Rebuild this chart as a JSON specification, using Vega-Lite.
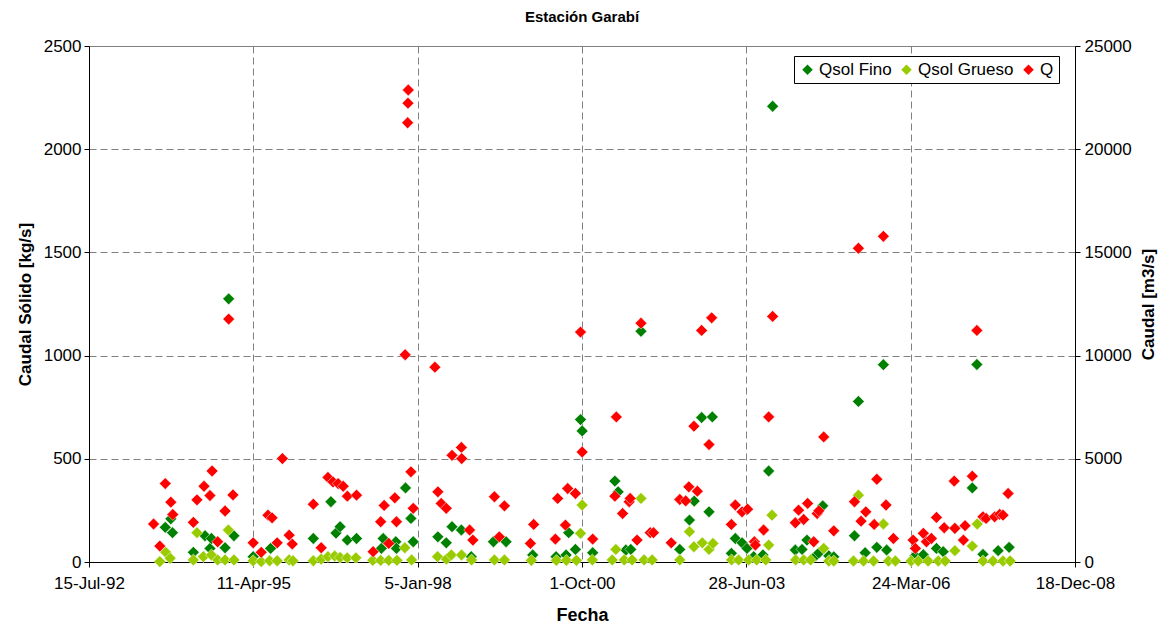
{
  "$schema": "https://vega.github.io/schema/vega-lite/v6.json",
  "autosize": "none",
  "width": 986,
  "height": 516,
  "padding": {"left": 89, "top": 46, "right": 95, "bottom": 63},
  "background": "white",
  "config": {
    "font": "Liberation Sans",
    "view": {"stroke": "#808080", "strokeWidth": 1},
    "axis": {
      "labelFont": "Liberation Sans",
      "titleFont": "Liberation Sans",
      "labelFontSize": 17,
      "titleFontSize": 17,
      "titleFontWeight": "bold",
      "labelColor": "black",
      "titleColor": "black",
      "domainColor": "black",
      "tickColor": "black",
      "tickSize": 5,
      "gridColor": "#808080",
      "gridDash": [7, 4],
      "gridWidth": 1
    }
  },
  "title": {
    "text": "Estación Garabí",
    "fontSize": 15,
    "fontWeight": "bold",
    "font": "Liberation Sans",
    "anchor": "middle",
    "frame": "group",
    "offset": 12,
    "color": "black"
  },
  "data": {
    "values": [
      {"fecha": "1993-10-22", "serie": "Qsol Fino", "valor": 168},
      {"fecha": "1993-11-25", "serie": "Qsol Fino", "valor": 209},
      {"fecha": "1993-12-05", "serie": "Qsol Fino", "valor": 142},
      {"fecha": "1994-04-11", "serie": "Qsol Fino", "valor": 47},
      {"fecha": "1994-06-21", "serie": "Qsol Fino", "valor": 127},
      {"fecha": "1994-07-21", "serie": "Qsol Fino", "valor": 66},
      {"fecha": "1994-07-30", "serie": "Qsol Fino", "valor": 114},
      {"fecha": "1994-10-21", "serie": "Qsol Fino", "valor": 69},
      {"fecha": "1994-11-12", "serie": "Qsol Fino", "valor": 1275},
      {"fecha": "1994-12-14", "serie": "Qsol Fino", "valor": 127},
      {"fecha": "1995-04-10", "serie": "Qsol Fino", "valor": 26},
      {"fecha": "1995-07-25", "serie": "Qsol Fino", "valor": 66},
      {"fecha": "1996-04-10", "serie": "Qsol Fino", "valor": 114},
      {"fecha": "1996-07-26", "serie": "Qsol Fino", "valor": 292},
      {"fecha": "1996-08-26", "serie": "Qsol Fino", "valor": 140},
      {"fecha": "1996-09-20", "serie": "Qsol Fino", "valor": 171},
      {"fecha": "1996-11-03", "serie": "Qsol Fino", "valor": 106},
      {"fecha": "1996-12-29", "serie": "Qsol Fino", "valor": 114},
      {"fecha": "1997-05-29", "serie": "Qsol Fino", "valor": 66},
      {"fecha": "1997-06-09", "serie": "Qsol Fino", "valor": 114},
      {"fecha": "1997-08-25", "serie": "Qsol Fino", "valor": 98},
      {"fecha": "1997-08-29", "serie": "Qsol Fino", "valor": 66},
      {"fecha": "1997-10-23", "serie": "Qsol Fino", "valor": 359},
      {"fecha": "1997-11-25", "serie": "Qsol Fino", "valor": 211},
      {"fecha": "1997-12-09", "serie": "Qsol Fino", "valor": 98},
      {"fecha": "1998-05-08", "serie": "Qsol Fino", "valor": 122},
      {"fecha": "1998-06-28", "serie": "Qsol Fino", "valor": 93},
      {"fecha": "1998-08-02", "serie": "Qsol Fino", "valor": 171},
      {"fecha": "1998-09-28", "serie": "Qsol Fino", "valor": 155},
      {"fecha": "1998-11-27", "serie": "Qsol Fino", "valor": 26},
      {"fecha": "1999-04-11", "serie": "Qsol Fino", "valor": 98},
      {"fecha": "1999-06-27", "serie": "Qsol Fino", "valor": 98},
      {"fecha": "1999-12-06", "serie": "Qsol Fino", "valor": 34},
      {"fecha": "2000-04-26", "serie": "Qsol Fino", "valor": 26},
      {"fecha": "2000-06-26", "serie": "Qsol Fino", "valor": 34},
      {"fecha": "2000-07-12", "serie": "Qsol Fino", "valor": 142},
      {"fecha": "2000-08-22", "serie": "Qsol Fino", "valor": 61},
      {"fecha": "2000-09-22", "serie": "Qsol Fino", "valor": 690},
      {"fecha": "2000-10-02", "serie": "Qsol Fino", "valor": 635},
      {"fecha": "2000-12-05", "serie": "Qsol Fino", "valor": 45},
      {"fecha": "2001-04-19", "serie": "Qsol Fino", "valor": 392},
      {"fecha": "2001-05-09", "serie": "Qsol Fino", "valor": 340},
      {"fecha": "2001-06-25", "serie": "Qsol Fino", "valor": 58},
      {"fecha": "2001-07-25", "serie": "Qsol Fino", "valor": 61},
      {"fecha": "2001-09-25", "serie": "Qsol Fino", "valor": 1118},
      {"fecha": "2002-05-19", "serie": "Qsol Fino", "valor": 61},
      {"fecha": "2002-07-17", "serie": "Qsol Fino", "valor": 203},
      {"fecha": "2002-08-15", "serie": "Qsol Fino", "valor": 295},
      {"fecha": "2002-09-29", "serie": "Qsol Fino", "valor": 700},
      {"fecha": "2002-11-13", "serie": "Qsol Fino", "valor": 243},
      {"fecha": "2002-12-03", "serie": "Qsol Fino", "valor": 703},
      {"fecha": "2003-03-29", "serie": "Qsol Fino", "valor": 42},
      {"fecha": "2003-04-22", "serie": "Qsol Fino", "valor": 114},
      {"fecha": "2003-06-02", "serie": "Qsol Fino", "valor": 93},
      {"fecha": "2003-07-02", "serie": "Qsol Fino", "valor": 66},
      {"fecha": "2003-08-12", "serie": "Qsol Fino", "valor": 26},
      {"fecha": "2003-10-07", "serie": "Qsol Fino", "valor": 34},
      {"fecha": "2003-11-11", "serie": "Qsol Fino", "valor": 441},
      {"fecha": "2003-12-05", "serie": "Qsol Fino", "valor": 2208},
      {"fecha": "2004-04-21", "serie": "Qsol Fino", "valor": 58},
      {"fecha": "2004-06-01", "serie": "Qsol Fino", "valor": 61},
      {"fecha": "2004-07-01", "serie": "Qsol Fino", "valor": 106},
      {"fecha": "2004-08-23", "serie": "Qsol Fino", "valor": 30},
      {"fecha": "2004-09-11", "serie": "Qsol Fino", "valor": 44},
      {"fecha": "2004-10-05", "serie": "Qsol Fino", "valor": 272},
      {"fecha": "2004-11-11", "serie": "Qsol Fino", "valor": 30},
      {"fecha": "2004-12-11", "serie": "Qsol Fino", "valor": 25},
      {"fecha": "2005-04-16", "serie": "Qsol Fino", "valor": 127},
      {"fecha": "2005-05-10", "serie": "Qsol Fino", "valor": 778},
      {"fecha": "2005-06-20", "serie": "Qsol Fino", "valor": 45},
      {"fecha": "2005-08-30", "serie": "Qsol Fino", "valor": 71},
      {"fecha": "2005-10-09", "serie": "Qsol Fino", "valor": 956},
      {"fecha": "2005-10-29", "serie": "Qsol Fino", "valor": 58},
      {"fecha": "2006-04-20", "serie": "Qsol Fino", "valor": 30},
      {"fecha": "2006-06-09", "serie": "Qsol Fino", "valor": 35},
      {"fecha": "2006-08-28", "serie": "Qsol Fino", "valor": 66},
      {"fecha": "2006-10-08", "serie": "Qsol Fino", "valor": 50},
      {"fecha": "2006-12-18", "serie": "Qsol Fino", "valor": 163},
      {"fecha": "2007-04-03", "serie": "Qsol Fino", "valor": 359},
      {"fecha": "2007-05-01", "serie": "Qsol Fino", "valor": 957},
      {"fecha": "2007-06-07", "serie": "Qsol Fino", "valor": 37},
      {"fecha": "2007-09-07", "serie": "Qsol Fino", "valor": 55},
      {"fecha": "2007-11-13", "serie": "Qsol Fino", "valor": 71},

      {"fecha": "1993-09-19", "serie": "Qsol Grueso", "valor": 2},
      {"fecha": "1993-10-25", "serie": "Qsol Grueso", "valor": 47},
      {"fecha": "1993-11-21", "serie": "Qsol Grueso", "valor": 18},
      {"fecha": "1994-04-11", "serie": "Qsol Grueso", "valor": 10},
      {"fecha": "1994-05-03", "serie": "Qsol Grueso", "valor": 142},
      {"fecha": "1994-06-11", "serie": "Qsol Grueso", "valor": 26},
      {"fecha": "1994-07-30", "serie": "Qsol Grueso", "valor": 34},
      {"fecha": "1994-09-06", "serie": "Qsol Grueso", "valor": 10},
      {"fecha": "1994-10-21", "serie": "Qsol Grueso", "valor": 10},
      {"fecha": "1994-11-10", "serie": "Qsol Grueso", "valor": 155},
      {"fecha": "1994-12-14", "serie": "Qsol Grueso", "valor": 10},
      {"fecha": "1995-04-10", "serie": "Qsol Grueso", "valor": 6},
      {"fecha": "1995-05-29", "serie": "Qsol Grueso", "valor": 2},
      {"fecha": "1995-07-19", "serie": "Qsol Grueso", "valor": 6},
      {"fecha": "1995-09-03", "serie": "Qsol Grueso", "valor": 6},
      {"fecha": "1995-11-15", "serie": "Qsol Grueso", "valor": 10},
      {"fecha": "1995-12-08", "serie": "Qsol Grueso", "valor": 6},
      {"fecha": "1996-04-10", "serie": "Qsol Grueso", "valor": 6},
      {"fecha": "1996-05-28", "serie": "Qsol Grueso", "valor": 14},
      {"fecha": "1996-07-08", "serie": "Qsol Grueso", "valor": 26},
      {"fecha": "1996-08-18", "serie": "Qsol Grueso", "valor": 29},
      {"fecha": "1996-09-20", "serie": "Qsol Grueso", "valor": 22},
      {"fecha": "1996-11-02", "serie": "Qsol Grueso", "valor": 20},
      {"fecha": "1996-12-25", "serie": "Qsol Grueso", "valor": 20},
      {"fecha": "1997-04-07", "serie": "Qsol Grueso", "valor": 8},
      {"fecha": "1997-05-25", "serie": "Qsol Grueso", "valor": 8},
      {"fecha": "1997-07-13", "serie": "Qsol Grueso", "valor": 8},
      {"fecha": "1997-09-01", "serie": "Qsol Grueso", "valor": 8},
      {"fecha": "1997-10-19", "serie": "Qsol Grueso", "valor": 69},
      {"fecha": "1997-11-29", "serie": "Qsol Grueso", "valor": 10},
      {"fecha": "1998-05-06", "serie": "Qsol Grueso", "valor": 26},
      {"fecha": "1998-06-29", "serie": "Qsol Grueso", "valor": 14},
      {"fecha": "1998-07-29", "serie": "Qsol Grueso", "valor": 34},
      {"fecha": "1998-09-29", "serie": "Qsol Grueso", "valor": 34},
      {"fecha": "1998-11-29", "serie": "Qsol Grueso", "valor": 10},
      {"fecha": "1999-04-17", "serie": "Qsol Grueso", "valor": 10},
      {"fecha": "1999-06-17", "serie": "Qsol Grueso", "valor": 10},
      {"fecha": "1999-11-28", "serie": "Qsol Grueso", "valor": 8},
      {"fecha": "2000-04-28", "serie": "Qsol Grueso", "valor": 8},
      {"fecha": "2000-06-28", "serie": "Qsol Grueso", "valor": 8},
      {"fecha": "2000-08-28", "serie": "Qsol Grueso", "valor": 8},
      {"fecha": "2000-09-22", "serie": "Qsol Grueso", "valor": 139},
      {"fecha": "2000-10-02", "serie": "Qsol Grueso", "valor": 276},
      {"fecha": "2000-12-03", "serie": "Qsol Grueso", "valor": 10},
      {"fecha": "2001-04-03", "serie": "Qsol Grueso", "valor": 10},
      {"fecha": "2001-04-25", "serie": "Qsol Grueso", "valor": 61},
      {"fecha": "2001-06-15", "serie": "Qsol Grueso", "valor": 10},
      {"fecha": "2001-08-02", "serie": "Qsol Grueso", "valor": 10},
      {"fecha": "2001-09-25", "serie": "Qsol Grueso", "valor": 308},
      {"fecha": "2001-10-14", "serie": "Qsol Grueso", "valor": 10},
      {"fecha": "2001-12-02", "serie": "Qsol Grueso", "valor": 10},
      {"fecha": "2002-05-19", "serie": "Qsol Grueso", "valor": 10},
      {"fecha": "2002-07-17", "serie": "Qsol Grueso", "valor": 147},
      {"fecha": "2002-08-13", "serie": "Qsol Grueso", "valor": 74},
      {"fecha": "2002-10-03", "serie": "Qsol Grueso", "valor": 93},
      {"fecha": "2002-11-13", "serie": "Qsol Grueso", "valor": 61},
      {"fecha": "2002-12-07", "serie": "Qsol Grueso", "valor": 90},
      {"fecha": "2003-03-30", "serie": "Qsol Grueso", "valor": 10},
      {"fecha": "2003-05-12", "serie": "Qsol Grueso", "valor": 10},
      {"fecha": "2003-07-12", "serie": "Qsol Grueso", "valor": 10},
      {"fecha": "2003-08-30", "serie": "Qsol Grueso", "valor": 10},
      {"fecha": "2003-10-24", "serie": "Qsol Grueso", "valor": 10},
      {"fecha": "2003-11-11", "serie": "Qsol Grueso", "valor": 82},
      {"fecha": "2003-12-01", "serie": "Qsol Grueso", "valor": 227},
      {"fecha": "2004-04-23", "serie": "Qsol Grueso", "valor": 10},
      {"fecha": "2004-06-11", "serie": "Qsol Grueso", "valor": 10},
      {"fecha": "2004-07-23", "serie": "Qsol Grueso", "valor": 10},
      {"fecha": "2004-10-11", "serie": "Qsol Grueso", "valor": 66},
      {"fecha": "2004-11-11", "serie": "Qsol Grueso", "valor": 5},
      {"fecha": "2004-12-11", "serie": "Qsol Grueso", "valor": 5},
      {"fecha": "2005-04-10", "serie": "Qsol Grueso", "valor": 5},
      {"fecha": "2005-05-10", "serie": "Qsol Grueso", "valor": 324},
      {"fecha": "2005-06-10", "serie": "Qsol Grueso", "valor": 5},
      {"fecha": "2005-08-10", "serie": "Qsol Grueso", "valor": 5},
      {"fecha": "2005-10-09", "serie": "Qsol Grueso", "valor": 184},
      {"fecha": "2005-11-09", "serie": "Qsol Grueso", "valor": 5},
      {"fecha": "2005-12-21", "serie": "Qsol Grueso", "valor": 5},
      {"fecha": "2006-03-27", "serie": "Qsol Grueso", "valor": 5},
      {"fecha": "2006-05-09", "serie": "Qsol Grueso", "valor": 5},
      {"fecha": "2006-07-08", "serie": "Qsol Grueso", "valor": 5},
      {"fecha": "2006-09-08", "serie": "Qsol Grueso", "valor": 5},
      {"fecha": "2006-10-20", "serie": "Qsol Grueso", "valor": 5},
      {"fecha": "2006-12-18", "serie": "Qsol Grueso", "valor": 55},
      {"fecha": "2007-04-03", "serie": "Qsol Grueso", "valor": 77},
      {"fecha": "2007-05-03", "serie": "Qsol Grueso", "valor": 184},
      {"fecha": "2007-06-07", "serie": "Qsol Grueso", "valor": 5},
      {"fecha": "2007-08-07", "serie": "Qsol Grueso", "valor": 5},
      {"fecha": "2007-10-07", "serie": "Qsol Grueso", "valor": 5},
      {"fecha": "2007-11-19", "serie": "Qsol Grueso", "valor": 5},

      {"fecha": "1993-08-12", "serie": "Q", "valor": 1840},
      {"fecha": "1993-09-19", "serie": "Q", "valor": 770},
      {"fecha": "1993-10-22", "serie": "Q", "valor": 3800},
      {"fecha": "1993-11-25", "serie": "Q", "valor": 2900},
      {"fecha": "1993-12-07", "serie": "Q", "valor": 2300},
      {"fecha": "1994-04-11", "serie": "Q", "valor": 1920},
      {"fecha": "1994-05-03", "serie": "Q", "valor": 3010},
      {"fecha": "1994-06-15", "serie": "Q", "valor": 3670},
      {"fecha": "1994-07-21", "serie": "Q", "valor": 3220},
      {"fecha": "1994-08-03", "serie": "Q", "valor": 4410},
      {"fecha": "1994-09-06", "serie": "Q", "valor": 980},
      {"fecha": "1994-10-21", "serie": "Q", "valor": 2470},
      {"fecha": "1994-11-12", "serie": "Q", "valor": 11770},
      {"fecha": "1994-12-08", "serie": "Q", "valor": 3250},
      {"fecha": "1995-04-10", "serie": "Q", "valor": 930},
      {"fecha": "1995-05-29", "serie": "Q", "valor": 470},
      {"fecha": "1995-07-09", "serie": "Q", "valor": 2270},
      {"fecha": "1995-08-03", "serie": "Q", "valor": 2140},
      {"fecha": "1995-09-03", "serie": "Q", "valor": 930},
      {"fecha": "1995-10-05", "serie": "Q", "valor": 5010},
      {"fecha": "1995-11-15", "serie": "Q", "valor": 1300},
      {"fecha": "1995-12-04", "serie": "Q", "valor": 870},
      {"fecha": "1996-04-10", "serie": "Q", "valor": 2800},
      {"fecha": "1996-05-28", "serie": "Q", "valor": 690},
      {"fecha": "1996-07-08", "serie": "Q", "valor": 4100},
      {"fecha": "1996-08-08", "serie": "Q", "valor": 3880},
      {"fecha": "1996-09-08", "serie": "Q", "valor": 3800},
      {"fecha": "1996-10-09", "serie": "Q", "valor": 3670},
      {"fecha": "1996-11-03", "serie": "Q", "valor": 3190},
      {"fecha": "1996-12-29", "serie": "Q", "valor": 3240},
      {"fecha": "1997-04-09", "serie": "Q", "valor": 500},
      {"fecha": "1997-05-25", "serie": "Q", "valor": 1950},
      {"fecha": "1997-06-15", "serie": "Q", "valor": 2740},
      {"fecha": "1997-07-13", "serie": "Q", "valor": 900},
      {"fecha": "1997-08-19", "serie": "Q", "valor": 3110},
      {"fecha": "1997-08-29", "serie": "Q", "valor": 1950},
      {"fecha": "1997-10-21", "serie": "Q", "valor": 10040},
      {"fecha": "1997-11-05", "serie": "Q", "valor": 21280},
      {"fecha": "1997-11-07", "serie": "Q", "valor": 22230},
      {"fecha": "1997-11-09", "serie": "Q", "valor": 22870},
      {"fecha": "1997-11-25", "serie": "Q", "valor": 4370},
      {"fecha": "1997-12-09", "serie": "Q", "valor": 2600},
      {"fecha": "1998-04-20", "serie": "Q", "valor": 9440},
      {"fecha": "1998-05-08", "serie": "Q", "valor": 3400},
      {"fecha": "1998-05-28", "serie": "Q", "valor": 2840},
      {"fecha": "1998-06-28", "serie": "Q", "valor": 2600},
      {"fecha": "1998-08-02", "serie": "Q", "valor": 5170},
      {"fecha": "1998-09-28", "serie": "Q", "valor": 5550},
      {"fecha": "1998-09-30", "serie": "Q", "valor": 5010},
      {"fecha": "1998-11-17", "serie": "Q", "valor": 1550},
      {"fecha": "1998-12-07", "serie": "Q", "valor": 1060},
      {"fecha": "1999-04-17", "serie": "Q", "valor": 3160},
      {"fecha": "1999-05-17", "serie": "Q", "valor": 1220},
      {"fecha": "1999-06-17", "serie": "Q", "valor": 2720},
      {"fecha": "1999-11-22", "serie": "Q", "valor": 900},
      {"fecha": "1999-12-12", "serie": "Q", "valor": 1820},
      {"fecha": "2000-04-22", "serie": "Q", "valor": 1110},
      {"fecha": "2000-05-06", "serie": "Q", "valor": 3080},
      {"fecha": "2000-06-22", "serie": "Q", "valor": 1790},
      {"fecha": "2000-07-06", "serie": "Q", "valor": 3560},
      {"fecha": "2000-08-22", "serie": "Q", "valor": 3320},
      {"fecha": "2000-09-22", "serie": "Q", "valor": 11140},
      {"fecha": "2000-10-02", "serie": "Q", "valor": 5330},
      {"fecha": "2000-12-05", "serie": "Q", "valor": 1110},
      {"fecha": "2001-04-19", "serie": "Q", "valor": 3190},
      {"fecha": "2001-04-28", "serie": "Q", "valor": 7030},
      {"fecha": "2001-06-05", "serie": "Q", "valor": 2350},
      {"fecha": "2001-07-15", "serie": "Q", "valor": 2920},
      {"fecha": "2001-07-21", "serie": "Q", "valor": 3080},
      {"fecha": "2001-09-01", "serie": "Q", "valor": 1060},
      {"fecha": "2001-09-25", "serie": "Q", "valor": 11570},
      {"fecha": "2001-11-20", "serie": "Q", "valor": 1420},
      {"fecha": "2001-12-10", "serie": "Q", "valor": 1420},
      {"fecha": "2002-03-28", "serie": "Q", "valor": 930},
      {"fecha": "2002-05-19", "serie": "Q", "valor": 3030},
      {"fecha": "2002-06-24", "serie": "Q", "valor": 2960},
      {"fecha": "2002-07-13", "serie": "Q", "valor": 3640},
      {"fecha": "2002-08-13", "serie": "Q", "valor": 6580},
      {"fecha": "2002-09-03", "serie": "Q", "valor": 3430},
      {"fecha": "2002-09-29", "serie": "Q", "valor": 11220},
      {"fecha": "2002-11-13", "serie": "Q", "valor": 5690},
      {"fecha": "2002-11-29", "serie": "Q", "valor": 11830},
      {"fecha": "2003-03-29", "serie": "Q", "valor": 1820},
      {"fecha": "2003-04-22", "serie": "Q", "valor": 2760},
      {"fecha": "2003-06-02", "serie": "Q", "valor": 2430},
      {"fecha": "2003-07-06", "serie": "Q", "valor": 2560},
      {"fecha": "2003-08-16", "serie": "Q", "valor": 980},
      {"fecha": "2003-08-22", "serie": "Q", "valor": 820},
      {"fecha": "2003-10-11", "serie": "Q", "valor": 1550},
      {"fecha": "2003-11-11", "serie": "Q", "valor": 7030},
      {"fecha": "2003-12-05", "serie": "Q", "valor": 11900},
      {"fecha": "2004-04-21", "serie": "Q", "valor": 1900},
      {"fecha": "2004-05-11", "serie": "Q", "valor": 2510},
      {"fecha": "2004-06-11", "serie": "Q", "valor": 2060},
      {"fecha": "2004-07-05", "serie": "Q", "valor": 2840},
      {"fecha": "2004-08-11", "serie": "Q", "valor": 980},
      {"fecha": "2004-09-01", "serie": "Q", "valor": 2350},
      {"fecha": "2004-09-11", "serie": "Q", "valor": 2480},
      {"fecha": "2004-10-11", "serie": "Q", "valor": 6060},
      {"fecha": "2004-12-11", "serie": "Q", "valor": 1510},
      {"fecha": "2005-04-16", "serie": "Q", "valor": 2920},
      {"fecha": "2005-05-10", "serie": "Q", "valor": 15200},
      {"fecha": "2005-05-26", "serie": "Q", "valor": 1980},
      {"fecha": "2005-06-24", "serie": "Q", "valor": 2430},
      {"fecha": "2005-08-14", "serie": "Q", "valor": 1820},
      {"fecha": "2005-08-30", "serie": "Q", "valor": 4010},
      {"fecha": "2005-10-09", "serie": "Q", "valor": 15780},
      {"fecha": "2005-10-25", "serie": "Q", "valor": 2760},
      {"fecha": "2005-12-09", "serie": "Q", "valor": 1140},
      {"fecha": "2006-04-08", "serie": "Q", "valor": 1060},
      {"fecha": "2006-04-22", "serie": "Q", "valor": 660},
      {"fecha": "2006-06-09", "serie": "Q", "valor": 1390},
      {"fecha": "2006-06-28", "serie": "Q", "valor": 980},
      {"fecha": "2006-07-28", "serie": "Q", "valor": 1140},
      {"fecha": "2006-08-28", "serie": "Q", "valor": 2160},
      {"fecha": "2006-10-14", "serie": "Q", "valor": 1660},
      {"fecha": "2006-12-14", "serie": "Q", "valor": 3920},
      {"fecha": "2006-12-18", "serie": "Q", "valor": 1630},
      {"fecha": "2007-02-08", "serie": "Q", "valor": 1060},
      {"fecha": "2007-02-18", "serie": "Q", "valor": 1760},
      {"fecha": "2007-04-03", "serie": "Q", "valor": 4160},
      {"fecha": "2007-05-01", "serie": "Q", "valor": 11220},
      {"fecha": "2007-06-07", "serie": "Q", "valor": 2190},
      {"fecha": "2007-06-26", "serie": "Q", "valor": 2110},
      {"fecha": "2007-08-17", "serie": "Q", "valor": 2190},
      {"fecha": "2007-09-17", "serie": "Q", "valor": 2310},
      {"fecha": "2007-10-07", "serie": "Q", "valor": 2270},
      {"fecha": "2007-11-07", "serie": "Q", "valor": 3320}
    ]
  },
  "encoding": {
    "x": {
      "field": "fecha",
      "type": "temporal",
      "scale": {
        "type": "utc",
        "domain": [
          {"year": 1992, "month": 7, "date": 15, "utc": true},
          {"year": 2008, "month": 12, "date": 18, "utc": true}
        ]
      },
      "axis": {
        "title": "Fecha",
        "titleFontSize": 18,
        "values": [
          {"year": 1992, "month": 7, "date": 15, "utc": true},
          {"year": 1995, "month": 4, "date": 11, "utc": true},
          {"year": 1998, "month": 1, "date": 5, "utc": true},
          {"year": 2000, "month": 10, "date": 1, "utc": true},
          {"year": 2003, "month": 6, "date": 28, "utc": true},
          {"year": 2006, "month": 3, "date": 24, "utc": true},
          {"year": 2008, "month": 12, "date": 18, "utc": true}
        ],
        "format": "%-d-%b-%y",
        "grid": true,
        "labelPadding": 8,
        "titlePadding": 15,
        "labelFlush": false,
        "labelOverlap": false
      }
    },
    "color": {
      "field": "serie",
      "type": "nominal",
      "scale": {
        "domain": ["Qsol Fino", "Qsol Grueso", "Q"],
        "range": ["#008000", "#99CC00", "#FF0000"]
      },
      "legend": {
        "title": null,
        "orient": "none",
        "legendX": 705,
        "legendY": 10,
        "direction": "horizontal",
        "strokeColor": "black",
        "fillColor": "white",
        "padding": 5,
        "symbolType": "diamond",
        "symbolSize": 110,
        "symbolStrokeWidth": 0,
        "labelFont": "Liberation Sans",
        "labelFontSize": 17,
        "labelColor": "black",
        "columnPadding": 6,
        "labelOffset": 3
      }
    }
  },
  "layer": [
    {
      "transform": [{"filter": "datum.serie != 'Q'"}],
      "mark": {"type": "point", "shape": "diamond", "filled": true, "size": 140, "opacity": 1, "stroke": "white", "strokeWidth": 0.5},
      "encoding": {
        "y": {
          "field": "valor",
          "type": "quantitative",
          "scale": {"domain": [0, 2500], "nice": false},
          "axis": {
            "title": "Caudal Sólido [kg/s]",
            "values": [0, 500, 1000, 1500, 2000, 2500],
            "format": "d",
            "grid": true,
            "labelPadding": 3,
            "titlePadding": 9
          }
        }
      }
    },
    {
      "transform": [{"filter": "datum.serie == 'Q'"}],
      "mark": {"type": "point", "shape": "diamond", "filled": true, "size": 140, "opacity": 1, "stroke": "white", "strokeWidth": 0.5},
      "encoding": {
        "y": {
          "field": "valor",
          "type": "quantitative",
          "scale": {"domain": [0, 25000], "nice": false},
          "axis": {
            "title": "Caudal [m3/s]",
            "orient": "right",
            "titleAngle": 270,
            "titleBaseline": "top",
            "values": [0, 5000, 10000, 15000, 20000, 25000],
            "format": "d",
            "grid": false,
            "labelPadding": 4,
            "titlePadding": 9
          }
        }
      }
    }
  ],
  "resolve": {"scale": {"y": "independent"}, "axis": {"y": "independent"}}
}
